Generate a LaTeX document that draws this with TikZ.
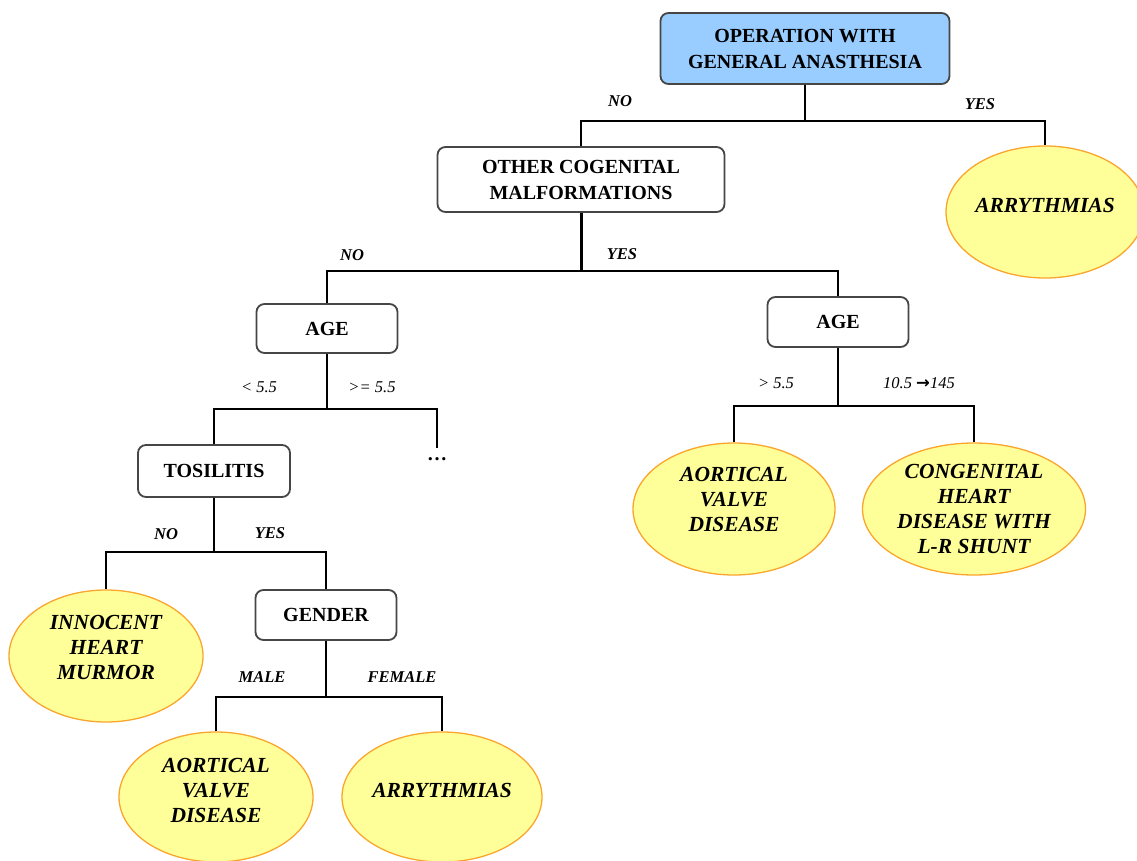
\documentclass[tikz,border=0pt]{standalone}
\usepackage{fontspec}
\setmainfont{Liberation Serif}
\newfontfamily\arrowfont{DejaVu Sans}
\usetikzlibrary{shapes.geometric}
\definecolor{rootblue}{RGB}{153,204,255}
\definecolor{leafyellow}{RGB}{255,255,153}
\definecolor{leaforange}{RGB}{250,165,45}
\definecolor{boxgray}{RGB}{70,70,70}
\begin{document}
\begin{tikzpicture}[x=1pt,y=-1pt,
  decision/.style={draw=boxgray, line width=1.8pt, rounded corners=8pt, fill=white,
    inner sep=0pt, align=center, font=\fontsize{20}{26}\selectfont\bfseries},
  leaf/.style={ellipse, draw=leaforange, line width=1.3pt, fill=leafyellow,
    inner sep=0pt, align=center, font=\fontsize{21.5}{25}\selectfont\bfseries\itshape},
  conn/.style={line width=1.8pt},
  thickconn/.style={line width=3pt},
  lbl/.style={inner sep=0pt, font=\fontsize{16.5}{18}\selectfont\bfseries\itshape},
  num/.style={inner sep=0pt, font=\fontsize{16.5}{18}\selectfont\itshape}]
\useasboundingbox (0,0) rectangle (1137,861);

% decision boxes
\node[decision, fill=rootblue, minimum width=289pt, minimum height=71pt] (root) at (805,48.5) {OPERATION WITH\\GENERAL ANASTHESIA};
\node[decision, minimum width=287pt, minimum height=65pt] (ocm) at (581,179.5) {OTHER COGENITAL\\MALFORMATIONS};
\node[decision, minimum width=141pt, minimum height=49pt] (age1) at (327,328.5) {AGE};
\node[decision, minimum width=141pt, minimum height=50pt] (age2) at (838,322) {AGE};
\node[decision, minimum width=152pt, minimum height=52pt] (tos) at (214,471) {TOSILITIS};
\node[decision, minimum width=141pt, minimum height=50pt] (gen) at (326,615) {GENDER};

% leaves
\node[leaf, minimum width=198pt, minimum height=132pt, text depth=14pt] (arr1) at (1045,212) {ARRYTHMIAS};
\node[leaf, minimum width=194pt, minimum height=132pt, text depth=18pt] (inn) at (106,656) {INNOCENT\\HEART\\MURMOR};
\node[leaf, minimum width=194pt, minimum height=130pt, text depth=14pt] (aov2) at (216,797) {AORTICAL\\VALVE\\DISEASE};
\node[leaf, minimum width=200pt, minimum height=130pt, text depth=14pt] (arr2) at (442,797) {ARRYTHMIAS};
\node[leaf, minimum width=202pt, minimum height=132pt, text depth=20pt] (aov1) at (734,509) {AORTICAL\\VALVE\\DISEASE};
\node[leaf, minimum width=223pt, minimum height=132pt] (chd) at (974,509) {CONGENITAL\\HEART\\DISEASE WITH\\L-R SHUNT};

% continuation marker
\node[anchor=north, inner sep=0pt, text height=12pt, text depth=0pt, font=\fontsize{20}{20}\selectfont\bfseries] (dots) at (437,448) {\ldots};

% bar levels
\coordinate (y1) at (0,121);
\coordinate (y2) at (0,271);
\coordinate (y3) at (0,409);
\coordinate (y4) at (0,406);
\coordinate (y5) at (0,552);
\coordinate (y6) at (0,697);

% connectors
\draw[conn] (root.south) -- (y1 -| root.south);
\draw[conn] (ocm.north) |- (y1 -| root.south) -| (arr1.north);

\draw[thickconn] (ocm.south) -- (y2 -| ocm.south);
\draw[conn] (age1.north) |- (y2 -| ocm.south) -| (age2.north);

\draw[conn] (age1.south) -- (y3 -| age1.south);
\draw[conn] (tos.north) |- (y3 -| age1.south) -| (dots.north);

\draw[conn] (age2.south) -- (y4 -| age2.south);
\draw[conn] (aov1.north) |- (y4 -| age2.south) -| (chd.north);

\draw[conn] (tos.south) -- (y5 -| tos.south);
\draw[conn] (inn.north) |- (y5 -| tos.south) -| (gen.north);

\draw[conn] (gen.south) -- (y6 -| gen.south);
\draw[conn] (aov2.north) |- (y6 -| gen.south) -| (arr2.north);

% edge labels
\node[lbl] (l1) at (620,101) {NO};
\node[lbl] (l2) at (980,104) {YES};
\node[lbl] (l3) at (352,255) {NO};
\node[lbl] (l4) at (622,254) {YES};
\node[num] (l5) at (259,387) {< 5.5};
\node[num] (l6) at (372,387) {>= 5.5};
\node[num] (l7) at (776,383) {> 5.5};
\node[num] (l8) at (919,383) {10.5 {\arrowfont\bfseries →}145};
\node[lbl] (l9) at (166,534) {NO};
\node[lbl] (l10) at (270,533) {YES};
\node[lbl] (l11) at (262,677) {MALE};
\node[lbl] (l12) at (402,677) {FEMALE};
\end{tikzpicture}
\end{document}
